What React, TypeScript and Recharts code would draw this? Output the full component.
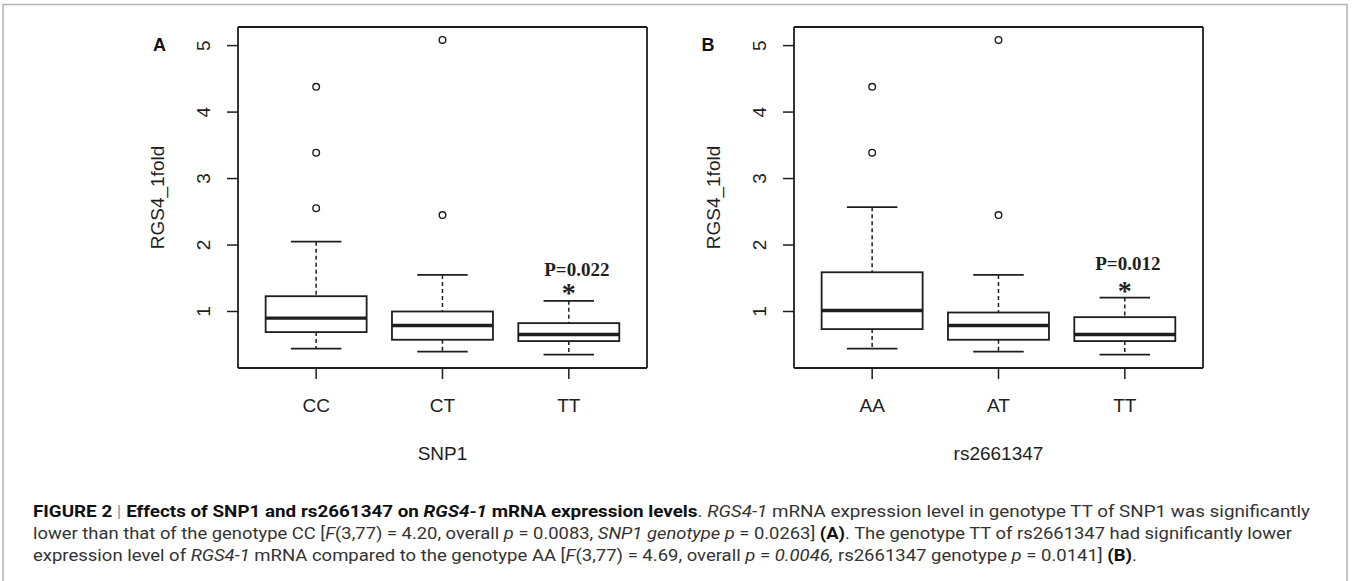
import React from 'react';
import { ComposedChart, Bar, Line, XAxis, YAxis, ReferenceDot } from 'recharts';

// ---------- data ----------
const categoriesA = ['CC', 'CT', 'TT'];
const whiskerLowA = [0.44, 0.395, 0.35];
const q1A = [0.69, 0.575, 0.555];
const medianA = [0.9, 0.79, 0.655];
const q3A = [1.23, 1.0, 0.825];
const whiskerHighA = [2.05, 1.55, 1.16];
const outliersA = [[4.38, 3.39, 2.555], [5.085, 2.45], []];

const categoriesB = ['AA', 'AT', 'TT'];
const whiskerLowB = [0.44, 0.395, 0.35];
const q1B = [0.735, 0.575, 0.555];
const medianB = [1.015, 0.79, 0.655];
const q3B = [1.59, 0.985, 0.915];
const whiskerHighB = [2.57, 1.55, 1.21];
const outliersB = [[4.38, 3.39], [5.085, 2.45], []];

const yTicks = [1, 2, 3, 4, 5];
const yDomain = [0.15, 5.28];

const annotA = { cat: 'TT', text: 'P=0.022', y: 1.54, starY: 1.337 };
const annotB = { cat: 'TT', text: 'P=0.012', y: 1.63, starY: 1.376 };

function buildRows(cats: string[], lo: number[], q1: number[], med: number[], q3: number[], hi: number[], outl: number[][]) {
  return cats.map((cat, i) => ({
    cat,
    lo: lo[i],
    q1: q1[i],
    med: med[i],
    q3: q3[i],
    hi: hi[i],
    o1: outl[i][0],
    o2: outl[i][1],
    o3: outl[i][2],
  }));
}

const rowsA = buildRows(categoriesA, whiskerLowA, q1A, medianA, q3A, whiskerHighA, outliersA);
const rowsB = buildRows(categoriesB, whiskerLowB, q1B, medianB, q3B, whiskerHighB, outliersB);

// ---------- styles ----------
const INK = '#1e1e1e';
const SANS = '"Liberation Sans", Arial, Helvetica, sans-serif';
const SERIF = '"Liberation Serif", "Times New Roman", serif';

const BoxShape = (props: any) => {
  const { x, y, width, height, payload } = props;
  if (x == null || y == null || !payload) return <g />;
  const top = Math.min(y, y + height);
  const bot = Math.max(y, y + height);
  const { lo, q1, med, q3, hi } = payload;
  const pix = (v: number) => top + ((hi - v) / (hi - lo)) * (bot - top);
  const cx = x + width / 2;
  const capHalf = width / 4;
  return (
    <g>
      <line x1={cx} x2={cx} y1={pix(hi)} y2={pix(q3)} stroke={INK} strokeWidth={1.5} strokeDasharray="4 3" />
      <line x1={cx} x2={cx} y1={pix(q1)} y2={pix(lo)} stroke={INK} strokeWidth={1.5} strokeDasharray="4 3" />
      <line x1={cx - capHalf} x2={cx + capHalf} y1={pix(hi)} y2={pix(hi)} stroke={INK} strokeWidth={1.8} />
      <line x1={cx - capHalf} x2={cx + capHalf} y1={pix(lo)} y2={pix(lo)} stroke={INK} strokeWidth={1.8} />
      <rect x={x} y={pix(q3)} width={width} height={pix(q1) - pix(q3)} fill="#fff" stroke={INK} strokeWidth={1.8} />
      <line x1={x} x2={x + width} y1={pix(med)} y2={pix(med)} stroke={INK} strokeWidth={3.4} />
    </g>
  );
};

const OutlierDot = (props: any) => {
  const { cx, cy, index, dataKey } = props;
  if (cy == null || !Number.isFinite(cy) || cx == null) return <g key={`e-${dataKey}-${index}`} />;
  return <circle key={`o-${dataKey}-${index}`} cx={cx} cy={cy} r={3.3} fill="#fff" stroke={INK} strokeWidth={1.4} />;
};

const YTick = (props: any) => {
  const { x, y, payload } = props;
  return (
    <text
      x={x}
      y={y}
      transform={`rotate(-90 ${x} ${y})`}
      textAnchor="middle"
      fontSize={19}
      fontFamily={SANS}
      fill={INK}
    >
      {payload.value}
    </text>
  );
};

function Panel({ rows, xTitle, annot, annotDx }: any) {
  return (
    <ComposedChart
      width={680}
      height={470}
      data={rows}
      margin={{ top: 26, right: 32, bottom: 2, left: 158 }}
      barCategoryGap="10%"
    >
      <XAxis
        dataKey="cat"
        padding={{ left: 15, right: 15 }}
        height={100}
        tickSize={11}
        tickMargin={20}
        tick={{ fontSize: 19, fill: INK, fontFamily: SANS }}
        axisLine={{ stroke: INK, strokeWidth: 1.8 }}
        tickLine={{ stroke: INK, strokeWidth: 1.5 }}
        label={{
          content: (p: any) => {
            const vb = p.viewBox || {};
            return (
              <text x={vb.x + vb.width / 2} y={vb.y + 91.5} textAnchor="middle" fontSize={19} fontFamily={SANS} fill={INK}>
                {xTitle}
              </text>
            );
          },
        }}
      />
      <XAxis
        xAxisId="top"
        orientation="top"
        dataKey="cat"
        padding={{ left: 15, right: 15 }}
        height={1}
        tick={false}
        tickLine={false}
        axisLine={{ stroke: INK, strokeWidth: 1.8 }}
      />
      <YAxis
        type="number"
        domain={yDomain}
        ticks={yTicks}
        allowDataOverflow
        width={80}
        tickSize={11}
        tickMargin={17}
        tick={<YTick />}
        axisLine={{ stroke: INK, strokeWidth: 1.8 }}
        tickLine={{ stroke: INK, strokeWidth: 1.5 }}
        label={{
          content: (p: any) => {
            const vb = p.viewBox || {};
            const tx = vb.x + 6;
            const ty = vb.y + vb.height / 2;
            return (
              <text x={tx} y={ty} transform={`rotate(-90 ${tx} ${ty})`} textAnchor="middle" fontSize={19} fontFamily={SANS} fill={INK}>
                RGS4_1fold
              </text>
            );
          },
        }}
      />
      <YAxis
        yAxisId="right"
        orientation="right"
        type="number"
        domain={yDomain}
        allowDataOverflow
        width={1}
        tick={false}
        tickLine={false}
        axisLine={{ stroke: INK, strokeWidth: 1.8 }}
      />
      <Bar dataKey={(d: any) => [d.lo, d.hi]} shape={BoxShape} isAnimationActive={false} />
      {['o1', 'o2', 'o3'].map((k) => (
        <Line
          key={k}
          xAxisId="top"
          yAxisId="right"
          dataKey={k}
          stroke="none"
          strokeWidth={0}
          dot={OutlierDot}
          activeDot={false}
          isAnimationActive={false}
          connectNulls={false}
        />
      ))}
      <ReferenceDot
        x={annot.cat}
        y={annot.y}
        r={0}
        fill="none"
        stroke="none"
        label={{
          content: (p: any) => {
            const vb = p.viewBox || {};
            return (
              <text x={vb.x + annotDx} y={vb.y} textAnchor="middle" fontSize={19} fontWeight="bold" fontFamily={SERIF} fill={INK}>
                {annot.text}
              </text>
            );
          },
        }}
      />
      <ReferenceDot
        x={annot.cat}
        y={annot.starY}
        r={0}
        fill="none"
        stroke="none"
        label={{
          content: (p: any) => {
            const vb = p.viewBox || {};
            return (
              <text x={vb.x} y={vb.y + 13} textAnchor="middle" fontSize={28} fontWeight="bold" fontFamily={SERIF} fill={INK}>
                *
              </text>
            );
          },
        }}
      />
    </ComposedChart>
  );
}

const CAP_FONT = '"Liberation Sans Narrow", "Roboto", "Liberation Sans", Arial, sans-serif';

export default function App() {
  return (
    <div style={{ position: 'absolute', left: 0, top: 0, width: 1352, height: 581, background: '#fff', overflow: 'hidden' }}>
      <div style={{ position: 'absolute', left: 0, top: 0 }}>
        <Panel rows={rowsA} xTitle="SNP1" annot={annotA} annotDx={8} />
      </div>
      <div style={{ position: 'absolute', left: 556, top: 0 }}>
        <Panel rows={rowsB} xTitle="rs2661347" annot={annotB} annotDx={3} />
      </div>
      <svg width={1352} height={581} style={{ position: 'absolute', left: 0, top: 0, pointerEvents: 'none' }}>
        <path d="M3,581 L3,4.5 L1347,4.5 L1347,581" fill="none" stroke="#b4b4b4" strokeWidth={1.5} />
        <text x={159.5} y={50.5} textAnchor="middle" fontSize={18} fontWeight="bold" fontFamily={SANS} fill="#111">A</text>
        <text x={708} y={50.5} textAnchor="middle" fontSize={18} fontWeight="bold" fontFamily={SANS} fill="#111">B</text>
        <g fontFamily={CAP_FONT} fontSize={16.5} fill="#333">
          <text x={33} y={516.7} textLength={1277} lengthAdjust="spacingAndGlyphs">
            <tspan fontWeight="bold" fill="#111">FIGURE 2 </tspan>
            <tspan fill="#999">|</tspan>
            <tspan fontWeight="bold" fill="#111"> Effects of SNP1 and rs2661347 on </tspan>
            <tspan fontWeight="bold" fontStyle="italic" fill="#111">RGS4-1</tspan>
            <tspan fontWeight="bold" fill="#111"> mRNA expression levels</tspan>
            <tspan>. </tspan>
            <tspan fontStyle="italic">RGS4-1</tspan>
            <tspan> mRNA expression level in genotype TT of SNP1 was significantly</tspan>
          </text>
          <text x={33} y={538.7} textLength={1259} lengthAdjust="spacingAndGlyphs">
            <tspan>lower than that of the genotype CC [</tspan>
            <tspan fontStyle="italic">F</tspan>
            <tspan>(3,77) = 4.20, overall </tspan>
            <tspan fontStyle="italic">p</tspan>
            <tspan> = 0.0083, </tspan>
            <tspan fontStyle="italic">SNP1 genotype p</tspan>
            <tspan> = 0.0263] </tspan>
            <tspan fontWeight="bold" fill="#111">(A)</tspan>
            <tspan>. The genotype TT of rs2661347 had significantly lower</tspan>
          </text>
          <text x={33} y={560.7} textLength={1104} lengthAdjust="spacingAndGlyphs">
            <tspan>expression level of </tspan>
            <tspan fontStyle="italic">RGS4-1</tspan>
            <tspan> mRNA compared to the genotype AA [</tspan>
            <tspan fontStyle="italic">F</tspan>
            <tspan>(3,77) = 4.69, overall </tspan>
            <tspan fontStyle="italic">p</tspan>
            <tspan> = </tspan>
            <tspan fontStyle="italic">0.0046,</tspan>
            <tspan> rs2661347 genotype </tspan>
            <tspan fontStyle="italic">p</tspan>
            <tspan> = 0.0141] </tspan>
            <tspan fontWeight="bold" fill="#111">(B)</tspan>
            <tspan>.</tspan>
          </text>
        </g>
      </svg>
    </div>
  );
}
